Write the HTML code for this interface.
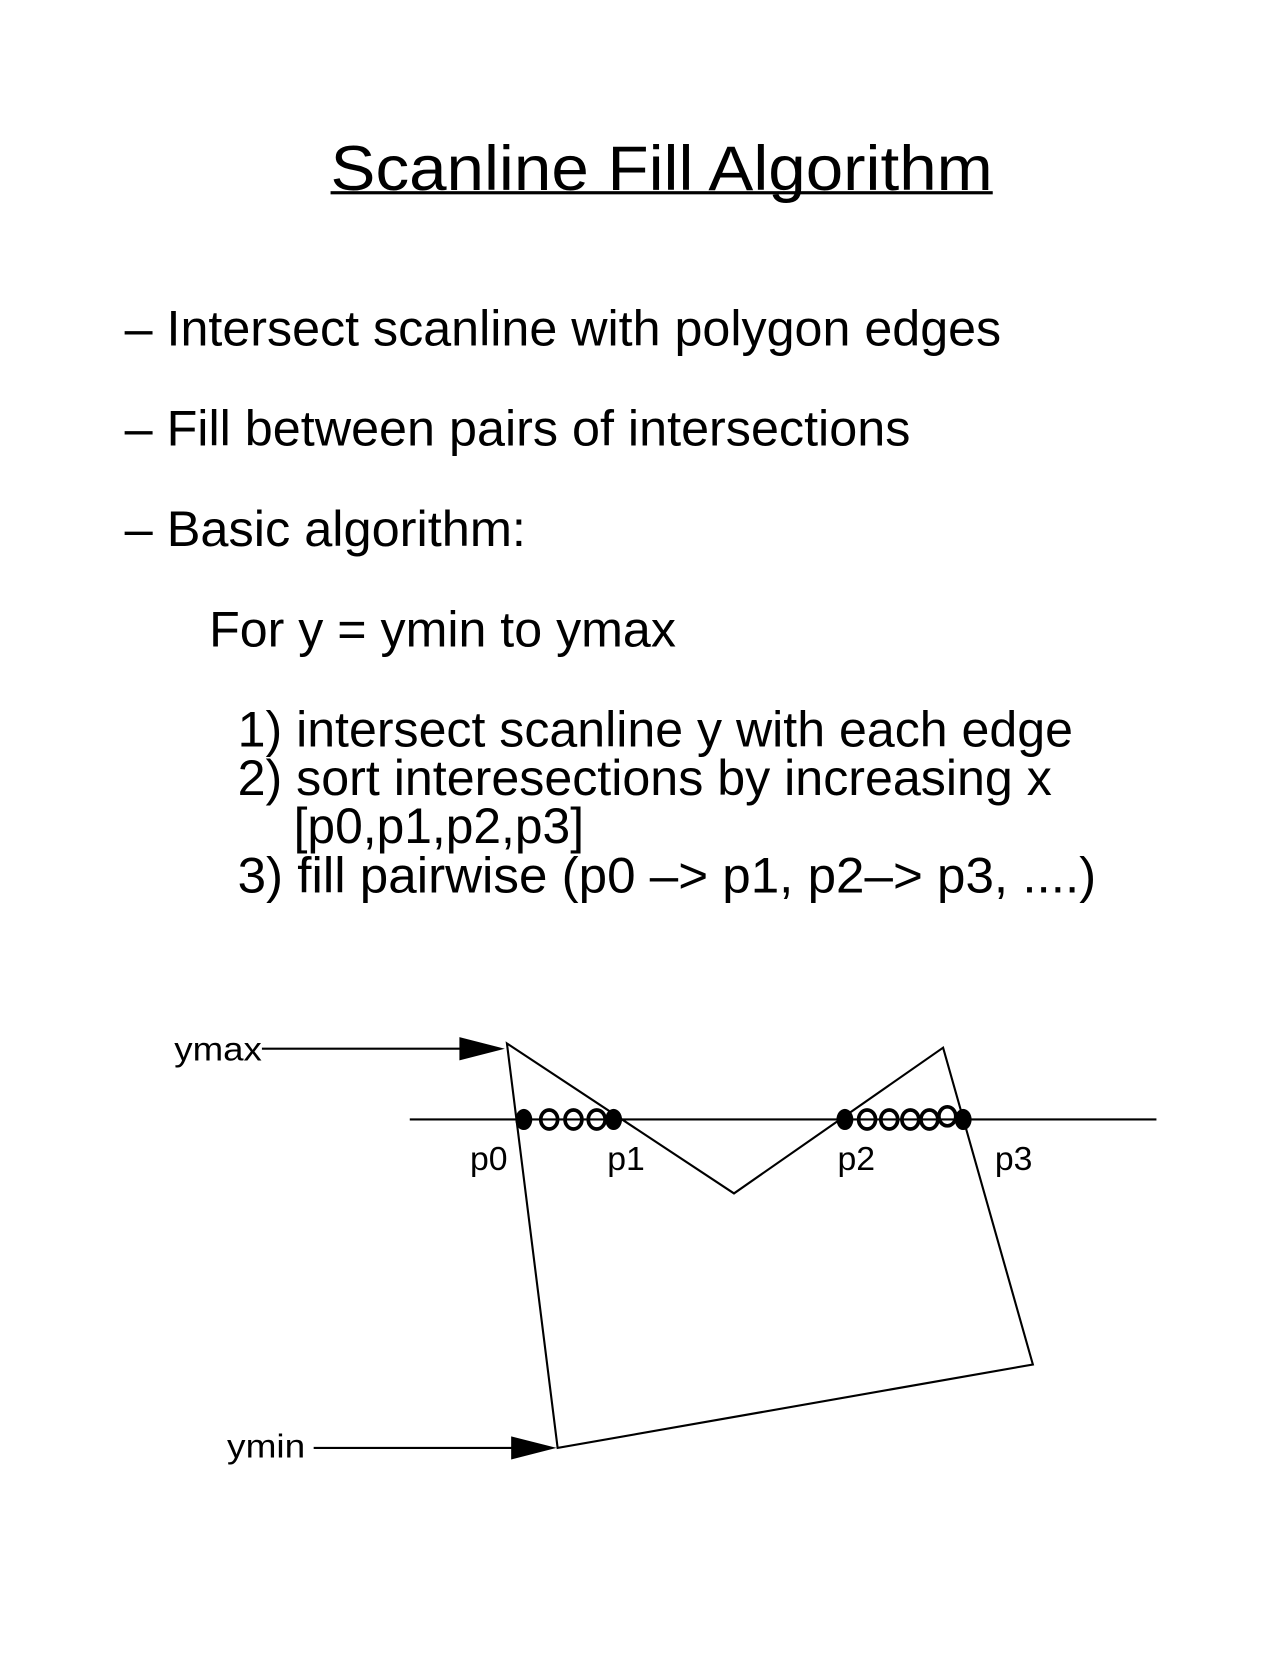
<!DOCTYPE html>
<html><head><meta charset="utf-8"><style>html,body{margin:0;padding:0;background:#fff}svg{display:block}</style></head>
<body>
<svg width="1280" height="1656" viewBox="0 0 1212 1568" xmlns="http://www.w3.org/2000/svg" font-family="'Liberation Sans', sans-serif" fill="#000">
<text x="313" y="180" font-size="60" textLength="627" lengthAdjust="spacingAndGlyphs">Scanline Fill Algorithm</text>
<rect x="313" y="181" width="627" height="3"/>
<g font-size="47">
<text x="118" y="327" textLength="830" lengthAdjust="spacingAndGlyphs">– Intersect scanline with polygon edges</text>
<text x="118" y="422" textLength="744" lengthAdjust="spacingAndGlyphs">– Fill between pairs of intersections</text>
<text x="118" y="517" textLength="380" lengthAdjust="spacingAndGlyphs">– Basic algorithm:</text>
<text x="198" y="612" textLength="442" lengthAdjust="spacingAndGlyphs">For y = ymin to ymax</text>
<text x="225" y="707" textLength="791" lengthAdjust="spacingAndGlyphs">1) intersect scanline y with each edge</text>
<text x="225" y="753" textLength="771" lengthAdjust="spacingAndGlyphs">2) sort interesections by increasing x</text>
<text x="278" y="798" textLength="275" lengthAdjust="spacingAndGlyphs">[p0,p1,p2,p3]</text>
<text x="225" y="845" textLength="813" lengthAdjust="spacingAndGlyphs">3) fill pairwise  (p0 –&gt; p1, p2–&gt; p3, ....)</text>
</g>
<g font-size="32">
<text x="165" y="1004" textLength="83" lengthAdjust="spacingAndGlyphs">ymax</text>
<text x="215" y="1380" textLength="74" lengthAdjust="spacingAndGlyphs">ymin</text>
<text x="445" y="1108">p0</text>
<text x="575" y="1108">p1</text>
<text x="793" y="1108">p2</text>
<text x="942" y="1108">p3</text>
</g>
<g stroke="#000" stroke-width="2" fill="none">
<line x1="248" y1="993" x2="440" y2="993"/>
<line x1="297" y1="1371" x2="486" y2="1371"/>
<line x1="388" y1="1060" x2="1095" y2="1060"/>
<polygon points="480,988 695,1130 893,992 978,1292 528,1371"/>
</g>
<polygon points="435,982 478,993 435,1004"/>
<polygon points="484,1360 527,1371 484,1382"/>
<g fill="#000"><ellipse cx="496" cy="1060" rx="8" ry="10"/><ellipse cx="581" cy="1060" rx="8" ry="10"/><ellipse cx="800" cy="1060" rx="8" ry="10"/><ellipse cx="912" cy="1060" rx="8" ry="10"/></g>
<g fill="none" stroke="#000" stroke-width="3.5">
<ellipse cx="520" cy="1060" rx="8" ry="9"/><ellipse cx="543" cy="1060" rx="8" ry="9"/><ellipse cx="565" cy="1060" rx="8" ry="9"/>
<ellipse cx="821" cy="1060" rx="8" ry="9"/><ellipse cx="842" cy="1060" rx="8" ry="9"/><ellipse cx="862" cy="1060" rx="8" ry="9"/><ellipse cx="880" cy="1060" rx="8" ry="9"/><ellipse cx="897" cy="1057" rx="8" ry="9"/>
</g>
</svg>
</body></html>
